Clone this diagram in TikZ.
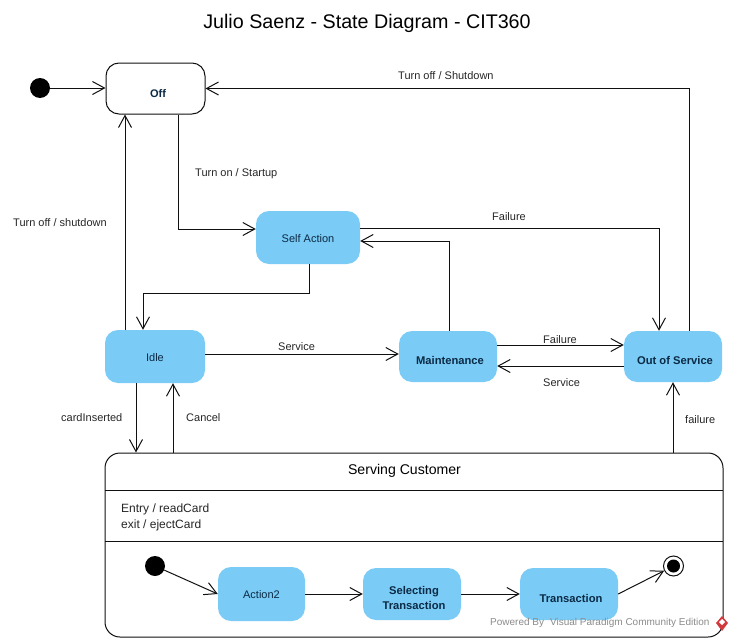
\documentclass[tikz,border=0pt]{standalone}
\usepackage{fontspec}
\setmainfont{Liberation Sans}
\usetikzlibrary{arrows.meta}
\definecolor{statefill}{HTML}{7ACBF5}
\definecolor{statetext}{HTML}{0B2A45}
\definecolor{lineink}{HTML}{101010}
\definecolor{wmgray}{HTML}{8C8C8C}
\definecolor{wmred}{HTML}{D2383C}
\tikzset{
  state/.style={draw=none,fill=statefill,rounded corners=13pt,inner sep=0pt,align=center,text=statetext,font=\fontsize{11}{14}\selectfont},
  boldstate/.style={state,font=\fontsize{11.2}{15}\selectfont\bfseries},
  plainstate/.style={state,draw=lineink,fill=white,line width=1pt,text=black},
  dot/.style={circle,fill=black,inner sep=0pt,minimum size=20pt},
  lbl/.style={text=black!85,font=\fontsize{11}{13.5}\selectfont,inner sep=0pt,align=left},
  conn/.style={draw=lineink,line width=1pt},
  arr/.style={conn,-{Straight Barb[length=12pt,width=13pt,line width=1pt]}},
}
\begin{document}
\begin{tikzpicture}[x=1pt,y=-1pt]
\useasboundingbox (0,0) rectangle (734,640);
\node[font=\fontsize{19.7}{24}\selectfont,text=black] (title) at (367,23) {Julio Saenz - State Diagram - CIT360};

\node[dot] (init) at (40,88) {};
\node[plainstate,minimum width=99pt,minimum height=51pt] (off) at (155.5,88.5) {};
\node[font=\fontsize{11}{14}\selectfont\bfseries,text=statetext,inner sep=0pt] (offt) at (158,93.5) {Off};

\node[state,minimum width=104pt,minimum height=53pt] (self) at (308,237.5) {\rule{0pt}{10pt}Self Action};
\node[state,minimum width=100pt,minimum height=53pt] (idle) at (155,356.5) {\rule{0pt}{10pt}Idle};
\node[boldstate,minimum width=98pt,minimum height=51pt] (maint) at (448,356.5) {\hspace*{4pt}\rule{0pt}{16pt}Maintenance};
\node[boldstate,minimum width=98pt,minimum height=51pt] (oos) at (673,356.5) {\hspace*{4pt}\rule{0pt}{16pt}Out of Service};

\node[plainstate,minimum width=618pt,minimum height=184pt,rounded corners=15pt] (serv) at (414,545) {};
\coordinate (sl1) at (105,490); \coordinate (sr1) at (723,490);
\coordinate (sl2) at (105,541); \coordinate (sr2) at (723,541);
\draw[conn] (sl1) -- (sr1);
\draw[conn] (sl2) -- (sr2);
\node[text=black,font=\fontsize{14.1}{17}\selectfont,inner sep=0pt] (servt) at (404.5,470.5) {Serving Customer};
\node[lbl,anchor=north west,font=\fontsize{12}{16}\selectfont] (entry) at (121,504) {Entry / readCard\\exit / ejectCard};

\node[dot] (init2) at (155,566) {};
\node[state,minimum width=87pt,minimum height=54pt] (act) at (261.5,594) {\rule{0pt}{10pt}Action2};
\node[boldstate,minimum width=98pt,minimum height=52pt] (sel) at (412,594) {\hspace*{4pt}\rule{0pt}{16pt}Selecting\\\hspace*{4pt}Transaction};
\node[boldstate,minimum width=98pt,minimum height=52pt] (trans) at (569,594) {\hspace*{4pt}\rule{0pt}{17pt}Transaction};
\node[circle,draw=lineink,line width=1pt,fill=white,minimum size=20pt,inner sep=0pt] (fin) at (673.5,566) {};
\node[circle,fill=black,minimum size=13pt,inner sep=0pt] (finin) at (fin) {};

% connectors
\draw[arr] (init) -- (off.west |- init);
\draw[arr] ([xshift=16pt]oos.north) -- ([xshift=16pt]oos.north |- off.east) -- (off.east);
\draw[arr] ([xshift=22.5pt]off.south) |- ([yshift=8.5pt]self.west);
\draw[arr] ([xshift=-30pt]idle.north) -- ([xshift=-30pt]idle.north |- off.south);
\draw[arr] ([xshift=1pt]self.south) -- ++(0,29) -| ([xshift=-12pt]idle.north);
\draw[arr] ([yshift=9pt]self.east) -| ([xshift=-14pt]oos.north);
\draw[arr] ([xshift=1pt]maint.north) |- ([yshift=-3.5pt]self.east);
\draw[arr] ([yshift=2.5pt]idle.east) -- ([yshift=2.5pt]idle.east -| maint.west);
\draw[arr] ([yshift=11.5pt]maint.east) -- ([yshift=11.5pt]oos.west);
\draw[arr] ([yshift=-9.5pt]oos.west) -- ([yshift=-9.5pt]maint.east);
\draw[arr] ([xshift=-19pt]idle.south) -- ([xshift=-19pt]idle.south |- serv.north);
\draw[arr] ([xshift=-241pt]serv.north) -- ([xshift=-241pt]serv.north |- idle.south);
\draw[arr] (oos.south |- serv.north) -- (oos.south);
\draw[arr] (init2) -- (act.west);
\draw[arr] (act.east) -- (act.east -| sel.west);
\draw[arr] (sel.east) -- (trans.west);
\draw[arr] (trans.east) -- (fin);

% connector labels
\node[lbl,anchor=west] (l1) at (398,76) {Turn off / Shutdown};
\node[lbl,anchor=west] (l2) at (195,174) {Turn on / Startup};
\node[lbl,anchor=west] (l3) at (13,223) {Turn off / shutdown};
\node[lbl,anchor=west] (l4) at (492,217) {Failure};
\node[lbl,anchor=west] (l5) at (278,347) {Service};
\node[lbl,anchor=west] (l6) at (543,340) {Failure};
\node[lbl,anchor=west] (l7) at (543,383) {Service};
\node[lbl,anchor=west] (l8) at (61,418) {cardInserted};
\node[lbl,anchor=west] (l9) at (186,418) {Cancel};
\node[lbl,anchor=west] (l10) at (685,420) {failure};

% watermark
\node[anchor=west,inner sep=0pt,text=wmgray,font=\fontsize{10}{12}\selectfont] (wm) at (490,623) {Powered By\hspace{6pt}Visual Paradigm Community Edition};
\fill[wmred] (722,616) -- (728,623) -- (722,631) -- (716,623) -- cycle;
\fill[white] (722,619) -- (725,622) -- (722,625) -- (719,622) -- cycle;
\end{tikzpicture}
\end{document}
